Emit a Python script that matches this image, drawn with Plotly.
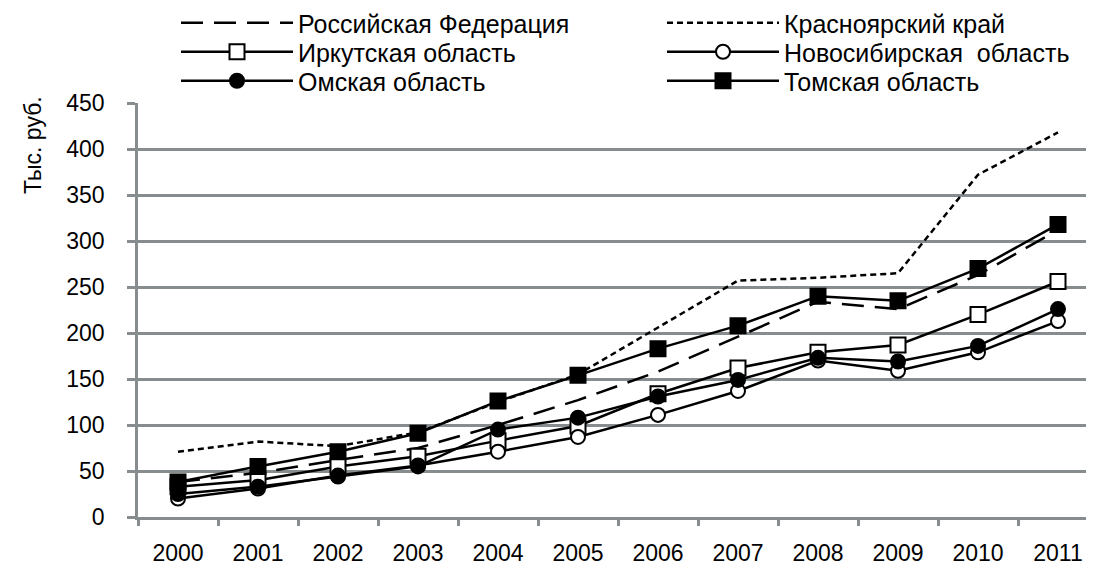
import plotly.graph_objects as go

years = ["2000", "2001", "2002", "2003", "2004", "2005", "2006", "2007", "2008", "2009", "2010", "2011"]
rf = [38, 48, 62, 75, 100, 127, 158, 196, 234, 226, 263, 312]
krasnoyarsk = [71, 82, 77, 92, 125, 155, 206, 257, 260, 265, 372, 418]
irkutsk = [33, 40, 55, 66, 83, 99, 134, 162, 179, 187, 220, 256]
novosibirsk = [20, 31, 45, 56, 71, 87, 111, 137, 170, 159, 179, 213]
omsk = [25, 33, 44, 55, 95, 108, 131, 149, 173, 169, 186, 226]
tomsk = [38, 55, 71, 91, 126, 154, 183, 208, 240, 235, 270, 318]

FONT = "Liberation Sans, Arial, sans-serif"
GRID = "#878c8f"
# page body has an 8px margin; figure is sized/placed to compensate
OFF = 8
W, H = 1094 - OFF, 568 - OFF
L, R, T, B = 138 - OFF, 0, 103 - OFF, H - (517 - OFF)
PW, PH = W - L - R, H - T - B

COL_X = [176, 662]
ROW_Y = [23, 52, 81]

fig = go.Figure()
legends = {}

def add(name, y, idx, dash="solid", symbol=None, fill="black"):
    key = "legend" if idx == 0 else f"legend{idx + 1}"
    col, row = idx % 2, idx // 2
    legends[key] = dict(orientation="v", x=(COL_X[col] - OFF - L) / PW, xanchor="left",
                        y=1 - (ROW_Y[row] - OFF) / H, yanchor="middle", yref="container",
                        itemwidth=112, font=dict(size=25, family=FONT),
                        bgcolor="rgba(0,0,0,0)")
    mode = "lines" if symbol is None else "lines+markers"
    kw = {}
    if symbol is not None:
        kw["marker"] = dict(symbol=symbol, size=14 if "circle" in symbol else 15,
                            color=fill, line=dict(color="black", width=2))
    fig.add_trace(go.Scatter(x=years, y=y, name=name, mode=mode, legend=key,
                             line=dict(color="black", width=2.5, dash=dash), **kw))

add("Российская Федерация", rf, 0, dash="22px,11px")
add("Красноярский край", krasnoyarsk, 1, dash="6px,4px")
add("Иркутская область", irkutsk, 2, symbol="square", fill="white")
add("Новосибирская  область", novosibirsk, 3, symbol="circle", fill="white")
add("Омская область", omsk, 4, symbol="circle", fill="black")
add("Томская область", tomsk, 5, symbol="square", fill="black")

fig.update_layout(
    width=W, height=H,
    margin=dict(l=L, r=R, t=T, b=B, autoexpand=False),
    plot_bgcolor="white", paper_bgcolor="white",
    font=dict(family=FONT, size=23, color="black"),
    showlegend=True,
    **legends,
    xaxis=dict(type="category", range=[-0.5, 11.45], showline=True, linecolor=GRID, linewidth=2.5,
               ticks="outside", tickson="boundaries", ticklen=6, tickwidth=2.5, tickcolor=GRID,
               showgrid=False, ticklabelstandoff=14, automargin=False),
    yaxis=dict(range=[0, 450], dtick=50, showline=True, linecolor=GRID, linewidth=2.5,
               ticks="outside", ticklen=8, tickwidth=2.5, tickcolor=GRID,
               showgrid=True, gridcolor=GRID, gridwidth=2.5, zeroline=False,
               ticklabelstandoff=18, automargin=False),
    annotations=[dict(text="Тыс. руб.", textangle=-90, x=(33 - OFF - L) / PW, xref="paper",
                      y=(517 - 145) / PH, yref="paper",
                      showarrow=False, font=dict(size=23), xanchor="center", yanchor="middle")],
)

fig.write_html("out.html")
